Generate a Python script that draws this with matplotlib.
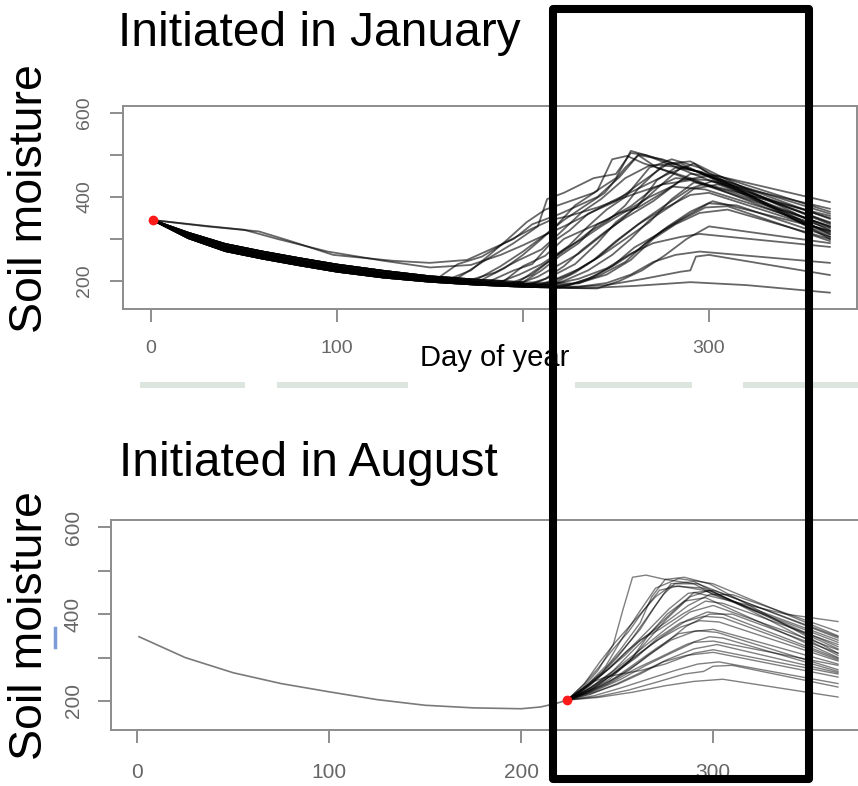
import matplotlib
matplotlib.use('Agg')
import matplotlib.pyplot as plt
from matplotlib.patches import Rectangle
from matplotlib.lines import Line2D

plt.rcParams['font.family'] = ['Liberation Sans', 'DejaVu Sans']

W, H = 858, 786

# dry-down from day 1 (top panel), five strands of the dark bundle
base_days = [1, 20, 40, 60, 80, 100, 125, 150, 175, 200, 225, 250]
base_strands = [
    [345, 302, 271, 253, 237, 222, 208, 198, 191, 186, 183, 182],
    [345, 305, 275, 257, 241, 226, 211, 201, 193, 188, 185, 183],
    [345, 308, 279, 261, 245, 230, 215, 204, 196, 190, 187, 185],
    [345, 311, 283, 265, 249, 234, 219, 207, 199, 193, 190, 188],
    [345, 315, 288, 270, 254, 239, 224, 211, 203, 197, 194, 192],
]

# January runs: (strand, points after leaving the strand); None = own path from day 1
jan_runs = [
    (4, [(165, 207), (180, 250), (195, 290), (208, 330), (213, 395), (222, 410), (238, 445), (250, 455), (258, 505), (266, 500), (300, 440), (365, 340)]),
    (None, [(1, 345), (30, 330), (58, 318), (75, 295), (98, 262), (130, 248), (150, 243), (170, 250), (185, 280), (195, 300), (205, 335), (220, 360), (240, 400), (252, 448), (262, 500), (272, 470), (300, 425), (365, 330)]),
    (2, [(175, 196), (190, 230), (200, 262), (210, 300), (218, 332), (228, 380), (240, 415), (248, 490), (256, 498), (265, 480), (290, 445), (365, 315)]),
    (0, [(190, 188), (205, 215), (215, 250), (225, 285), (235, 330), (245, 370), (255, 400), (268, 470), (280, 490), (295, 470), (365, 300)]),
    (2, [(180, 195), (195, 225), (205, 240), (215, 290), (225, 320), (235, 360), (250, 390), (262, 430), (278, 480), (290, 485), (365, 320)]),
    (1, [(200, 188), (212, 205), (222, 235), (232, 275), (245, 320), (255, 350), (270, 390), (285, 440), (300, 450), (365, 335)]),
    (4, [(155, 209), (165, 240), (178, 258), (190, 290), (205, 325), (215, 345), (225, 355), (240, 375), (255, 400), (275, 430), (290, 440), (365, 355)]),
    (3, [(205, 192), (215, 210), (228, 240), (240, 290), (250, 340), (262, 380), (272, 420), (285, 470), (295, 460), (365, 310)]),
    (0, [(210, 185), (222, 200), (235, 225), (248, 262), (258, 300), (268, 345), (280, 380), (292, 420), (305, 430), (365, 328)]),
    (1, [(215, 186), (230, 195), (245, 215), (258, 250), (270, 300), (282, 335), (295, 362), (310, 370), (365, 300)]),
    (3, [(170, 200), (185, 220), (198, 250), (210, 275), (220, 315), (232, 365), (242, 395), (255, 445), (268, 475), (285, 480), (365, 305)]),
    (4, [(190, 200), (200, 235), (212, 260), (222, 300), (232, 320), (245, 345), (258, 378), (270, 420), (282, 445), (300, 440), (365, 350)]),
    (0, [(220, 184), (235, 205), (248, 235), (260, 280), (272, 310), (285, 345), (298, 375), (310, 378), (365, 295)]),
    (2, [(185, 193), (198, 215), (210, 240), (222, 275), (232, 300), (242, 330), (255, 365), (268, 400), (280, 425), (298, 418), (365, 325)]),
    (1, [(225, 185), (245, 190), (265, 205), (285, 222), (290, 225), (293, 258), (300, 262), (365, 214)]),
    (0, [(235, 183), (260, 188), (290, 197), (320, 190), (365, 172)]),
    (2, [(230, 186), (245, 195), (258, 215), (270, 245), (282, 262), (295, 270), (365, 243)]),
    (3, [(215, 191), (230, 205), (245, 230), (258, 265), (270, 290), (285, 305), (295, 312), (365, 281)]),
    (4, [(200, 197), (210, 225), (220, 260), (230, 290), (240, 335), (252, 362), (262, 375), (275, 410), (290, 455), (305, 450), (365, 365)]),
    (1, [(195, 189), (205, 220), (215, 250), (225, 280), (236, 318), (246, 345), (255, 380), (262, 420), (275, 475), (288, 470), (365, 338)]),
    (0, [(205, 185), (218, 205), (230, 228), (242, 260), (255, 300), (268, 340), (280, 395), (292, 435), (310, 415), (365, 330)]),
    (4, [(175, 203), (188, 235), (200, 270), (212, 310), (222, 345), (232, 375), (244, 410), (255, 470), (262, 500), (275, 490), (300, 450), (365, 360)]),
    (2, [(210, 189), (225, 215), (238, 250), (250, 295), (262, 335), (275, 370), (290, 405), (300, 410), (365, 318)]),
    (1, [(195, 189), (208, 210), (220, 240), (230, 265), (240, 300), (250, 335), (262, 380), (272, 440), (282, 470), (296, 460), (365, 312)]),
    (3, [(215, 191), (228, 220), (240, 255), (252, 300), (265, 345), (278, 385), (290, 420), (302, 438), (365, 372)]),
    (None, [(1, 345), (30, 331), (50, 322), (68, 300), (95, 270), (125, 248), (150, 232), (172, 238), (188, 262), (200, 285), (212, 310), (222, 330), (232, 352), (248, 390), (262, 420), (278, 455), (292, 480), (300, 455), (365, 388)]),
    (3, [(225, 190), (238, 210), (250, 240), (262, 275), (275, 320), (288, 355), (300, 385), (315, 380), (365, 305)]),
    (4, [(230, 194), (242, 215), (255, 245), (266, 290), (278, 330), (290, 365), (302, 390), (365, 320)]),
    (0, [(240, 182), (252, 200), (264, 225), (276, 260), (288, 300), (300, 330), (365, 290)]),
    (3, [(160, 204), (172, 225), (182, 262), (192, 300), (202, 340), (212, 370), (222, 385), (238, 410), (250, 445), (258, 510), (270, 495), (305, 445), (365, 348)]),
]

# August: one run up to day 224, then the ensemble
aug_pre_days = [1, 25, 50, 75, 100, 125, 150, 175, 200, 210, 218, 224]
aug_pre_vals = [348, 300, 265, 240, 221, 203, 190, 184, 182, 186, 194, 202]

aug_runs = [
    [(224, 202), (232, 230), (240, 270), (248, 330), (253, 410), (258, 485), (265, 490), (275, 480), (290, 470), (300, 445), (365, 335)],
    [(224, 202), (232, 225), (242, 265), (252, 320), (262, 380), (268, 440), (275, 480), (285, 485), (298, 470), (365, 310)],
    [(224, 202), (234, 235), (244, 280), (252, 340), (260, 395), (270, 460), (282, 482), (293, 475), (300, 470), (365, 350)],
    [(224, 202), (236, 230), (248, 270), (258, 315), (268, 360), (280, 410), (290, 450), (300, 440), (338, 400), (365, 383)],
    [(224, 202), (235, 222), (246, 250), (256, 290), (266, 340), (276, 390), (288, 440), (298, 455), (365, 320)],
    [(224, 202), (236, 225), (248, 262), (258, 300), (266, 350), (276, 400), (285, 430), (296, 438), (365, 300)],
    [(224, 202), (238, 228), (250, 255), (262, 290), (274, 330), (286, 372), (298, 400), (310, 400), (365, 310)],
    [(224, 202), (234, 218), (245, 240), (256, 270), (266, 305), (278, 340), (290, 360), (300, 365), (365, 285)],
    [(224, 202), (236, 215), (250, 240), (262, 265), (276, 295), (290, 320), (302, 330), (365, 265)],
    [(224, 202), (238, 212), (252, 230), (266, 250), (280, 270), (292, 285), (303, 290), (365, 240)],
    [(224, 202), (240, 210), (256, 225), (272, 245), (285, 262), (295, 268), (300, 280), (310, 282), (365, 232)],
    [(224, 202), (240, 208), (258, 220), (275, 235), (290, 245), (305, 250), (365, 209)],
    [(224, 202), (233, 228), (242, 262), (250, 300), (258, 345), (266, 395), (274, 445), (280, 470), (292, 470), (365, 345)],
    [(224, 202), (235, 232), (244, 268), (254, 305), (262, 340), (272, 365), (284, 400), (296, 430), (305, 425), (365, 330)],
    [(224, 202), (233, 240), (241, 290), (249, 335), (256, 370), (262, 400), (270, 440), (278, 465), (295, 460), (365, 325)],
    [(224, 202), (236, 222), (247, 248), (258, 282), (270, 320), (282, 355), (292, 362), (302, 358), (365, 272)],
    [(224, 202), (236, 220), (248, 245), (260, 275), (272, 300), (286, 330), (298, 348), (305, 345), (365, 268)],
    [(224, 202), (234, 225), (244, 255), (254, 290), (264, 325), (276, 368), (288, 405), (300, 420), (365, 318)],
    [(224, 202), (232, 235), (240, 275), (248, 320), (256, 360), (264, 410), (272, 455), (282, 465), (295, 455), (365, 340)],
    [(224, 202), (238, 230), (250, 268), (262, 310), (274, 350), (286, 385), (297, 405), (305, 400), (365, 298)],
    [(224, 202), (237, 218), (250, 238), (262, 262), (274, 290), (286, 305), (300, 312), (365, 255)],
    [(224, 202), (235, 238), (245, 272), (255, 315), (265, 350), (275, 380), (287, 420), (298, 445), (310, 445), (365, 360)],
    [(224, 202), (233, 232), (243, 270), (253, 318), (262, 365), (270, 420), (278, 470), (290, 475), (365, 305)],
    [(224, 202), (236, 228), (248, 262), (260, 300), (271, 345), (283, 380), (295, 395), (305, 392), (365, 295)],
    [(224, 202), (238, 222), (252, 250), (265, 282), (278, 310), (290, 335), (300, 338), (365, 282)],
    [(224, 202), (235, 235), (246, 275), (256, 318), (266, 362), (277, 412), (287, 448), (300, 455), (365, 348)],
    [(224, 202), (237, 232), (249, 268), (260, 305), (271, 340), (283, 370), (293, 385), (303, 382), (365, 292)],
    [(224, 202), (232, 225), (238, 245), (244, 255), (252, 262), (262, 270), (275, 285), (290, 310), (300, 318), (365, 262)],
]

jan_start = (1, 345)
aug_start = (224, 202)

x_ticks = [0, 100, 200, 300]
y_ticks = [200, 300, 400, 500, 600]
y_labels = ['200', '', '400', '', '600']


def px_box(l, t, r, b):
    return [l / W, 1 - b / H, (r - l) / W, (b - t) / H]


def style(ax, xlim, xlabels, fs, xpad, ypad):
    ax.set_xlim(*xlim)
    ax.set_ylim(133, 617)
    for s in ax.spines.values():
        s.set_color('#8c8c8c')
        s.set_linewidth(1.4)
    ax.set_xticks(x_ticks)
    ax.set_xticklabels(xlabels)
    ax.set_yticks(y_ticks)
    ax.set_yticklabels(y_labels, rotation=90, va='center')
    ax.tick_params(axis='both', direction='out', length=9.5, width=1.2,
                   color='#7a7a7a', labelcolor='#666666', labelsize=fs)
    ax.tick_params(axis='x', pad=xpad)
    ax.tick_params(axis='y', pad=ypad)


fig = plt.figure(figsize=(W / 100, H / 100), dpi=100)

# top panel
ax1 = fig.add_axes(px_box(123, 106, 857, 309))
for k, pts in jan_runs:
    days = [p[0] for p in pts]
    vals = [p[1] for p in pts]
    if k is not None:
        bd = [d for d in base_days if d < days[0]]
        days = bd + days
        vals = base_strands[k][:len(bd)] + vals
    ax1.plot(days, vals, color='black', alpha=0.6, lw=1.3, solid_joinstyle='round')
ax1.plot(*jan_start, 'o', color='#ff1a1a', ms=6, zorder=5)
style(ax1, (-15, 379.6), ['0', '100', '', '300'], 14, 13, 12)

# bottom panel
ax2 = fig.add_axes(px_box(111, 520, 866, 730))
ax2.plot(aug_pre_days, aug_pre_vals, color='#7a7a7a', lw=1.2)
for pts in aug_runs:
    ax2.plot([p[0] for p in pts], [p[1] for p in pts], color='black',
             alpha=0.5, lw=1.0, solid_joinstyle='round')
ax2.plot(*aug_start, 'o', color='#ff1a1a', ms=6, zorder=5)
style(ax2, (-13.6, 379.6), ['0', '100', '200', '300'], 15, 14, 11)

# slide texts
fig.text(118 / W, 1 - 46 / H, 'Initiated in January', fontsize=34.5, va='baseline', ha='left')
fig.text(119 / W, 1 - 476 / H, 'Initiated in August', fontsize=34.5, va='baseline', ha='left')
fig.text(30 / W, 1 - 199 / H, 'Soil moisture', fontsize=33.5, rotation=90, ha='center', va='center')
fig.text(30 / W, 1 - 626 / H, 'Soil moisture', fontsize=33.5, rotation=90, ha='center', va='center')
fig.text(420 / W, 1 - 366 / H, 'Day of year', fontsize=21, va='baseline', ha='left')

# faint strips left over from the screenshot
for l, r in [(140, 245), (277, 408), (575, 692), (743, 858)]:
    fig.add_artist(Rectangle((l / W, 1 - 388 / H), (r - l) / W, 6 / H,
                             transform=fig.transFigure, color='#dde5df', lw=0))
fig.add_artist(Line2D([55 / W, 55 / W], [1 - 628 / H, 1 - 647 / H],
                      transform=fig.transFigure, color='#7d9bd6', lw=2.5))

# highlight box
fig.add_artist(Rectangle((553 / W, 1 - 779 / H), 256 / W, 770 / H,
                         transform=fig.transFigure, fill=False,
                         edgecolor='black', lw=5.8, joinstyle='round'))

fig.savefig('out.png', dpi=100)
